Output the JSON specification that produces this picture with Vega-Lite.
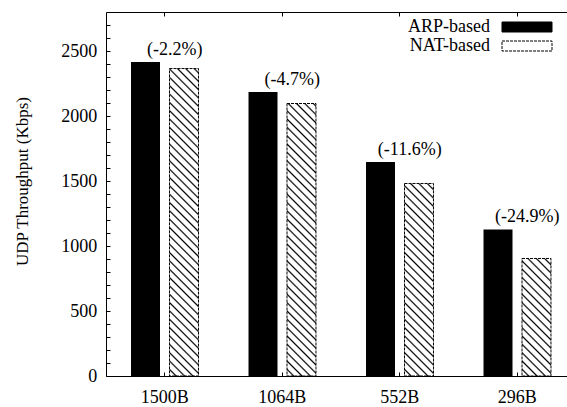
{
 "$schema": "https://vega.github.io/schema/vega-lite/v6.json",
 "width": 461, "height": 364,
 "autosize": {"type": "none"},
 "padding": {"left": 106, "top": 12, "right": 0, "bottom": 31},
 "config": {
  "view": {"stroke": "#000", "strokeWidth": 1},
  "font": "Liberation Serif",
  "axis": {"grid": false, "domain": false, "tickColor": "#000", "tickWidth": 1, "tickSize": 4, "labelColor": "#000", "labelFont": "Liberation Serif", "labelFontSize": 18, "labelOverlap": false, "titleFont": "Liberation Serif", "titleFontSize": 17, "titleFontWeight": "normal", "titleColor": "#000", "zindex": 1},
  "legend": {"labelFont": "Liberation Serif", "labelFontSize": 18, "labelColor": "#000"}
 },
 "data": {"values": [
  {"size": "1500B", "series": "ARP-based", "value": 2415, "diff": "(-2.2%)"},
  {"size": "1500B", "series": "NAT-based", "value": 2365},
  {"size": "1064B", "series": "ARP-based", "value": 2185, "diff": "(-4.7%)"},
  {"size": "1064B", "series": "NAT-based", "value": 2096},
  {"size": "552B", "series": "ARP-based", "value": 1647, "diff": "(-11.6%)"},
  {"size": "552B", "series": "NAT-based", "value": 1481},
  {"size": "296B", "series": "ARP-based", "value": 1127, "diff": "(-24.9%)"},
  {"size": "296B", "series": "NAT-based", "value": 904}
 ]},
 "layer": [
  {
   "mark": {"type": "bar"},
   "encoding": {
    "x": {"field": "size", "type": "nominal", "sort": ["1500B", "1064B", "552B", "296B"], "scale": {"range": [0, 470], "paddingInner": 0, "paddingOuter": 0}, "axis": {"orient": "bottom", "title": null, "labelAngle": 0, "ticks": false, "labelPadding": 12}},
    "xOffset": {"field": "series", "type": "nominal", "sort": ["ARP-based", "NAT-based"], "scale": {"paddingInner": 0.247, "paddingOuter": 0.65}},
    "y": {"field": "value", "type": "quantitative", "scale": {"domain": [0, 2800], "nice": false, "zero": true}, "axis": {"orient": "left", "title": "UDP Throughput (Kbps)", "values": [0, 500, 1000, 1500, 2000, 2500], "format": "d", "ticks": false, "labelPadding": 9.3, "titleX": -83.5, "titleY": 169, "titleBaseline": "middle", "titleAlign": "center", "titleAngle": -90}},
    "color": {"field": "series", "type": "nominal", "sort": ["ARP-based", "NAT-based"], "scale": {"domain": ["ARP-based", "NAT-based"], "range": ["#000", "#fff"]},
     "legend": {"title": null, "orient": "none", "legendX": 412, "legendY": 6, "padding": 0, "rowPadding": 1, "symbolType": "M-5,-1H5V1H-5Z", "symbolSize": 100, "symbolStrokeWidth": 1, "labelAlign": "right", "labelOffset": -46, "labelBaseline": "middle",
      "encode": {"symbols": {"update": {
        "fill": [{"test": "datum.value === 'NAT-based'", "value": {"gradient": "linear", "x1": 0, "y1": 1, "x2": 8.023, "y2": -0.6046, "stops": [
{"offset":0,"color":"#fff"},{"offset":0.012,"color":"#fff"},{"offset":0.016,"color":"#000"},
{"offset":0.02,"color":"#fff"},{"offset":0.032,"color":"#fff"},{"offset":0.036,"color":"#000"},
{"offset":0.04,"color":"#fff"},{"offset":0.052,"color":"#fff"},{"offset":0.056,"color":"#000"},
{"offset":0.06,"color":"#fff"},{"offset":0.072,"color":"#fff"},{"offset":0.076,"color":"#000"},
{"offset":0.08,"color":"#fff"},{"offset":0.092,"color":"#fff"},{"offset":0.096,"color":"#000"},
{"offset":0.1,"color":"#fff"},{"offset":0.112,"color":"#fff"},{"offset":0.116,"color":"#000"},
{"offset":0.12,"color":"#fff"},{"offset":0.132,"color":"#fff"},{"offset":0.136,"color":"#000"},
{"offset":0.14,"color":"#fff"},{"offset":0.152,"color":"#fff"},{"offset":0.156,"color":"#000"},
{"offset":0.16,"color":"#fff"}]}}, {"value": "#000"}],
        "stroke": {"value": "#000"},
        "strokeDash": [{"test": "datum.value === 'NAT-based'", "value": [3, 1]}, {"value": []}]
      }}}}}
   }
  },
  {
   "transform": [{"filter": "datum.series === 'NAT-based'"}],
   "mark": {"type": "bar", "stroke": "#000", "strokeWidth": 1, "strokeDash": [3, 1]},
   "encoding": {
    "x": {"field": "size", "type": "nominal", "sort": ["1500B", "1064B", "552B", "296B"], "axis": {"orient": "bottom", "title": null, "labels": false, "ticks": true, "tickSize": 4, "offset": -4}},
    "xOffset": {"field": "series", "type": "nominal", "sort": ["ARP-based", "NAT-based"]},
    "y": {"field": "value", "type": "quantitative", "axis": {"orient": "left", "title": null, "labels": false, "ticks": true, "tickSize": 4, "offset": -4, "values": [0,100,200,300,400,500,600,700,800,900,1000,1100,1200,1300,1400,1500,1600,1700,1800,1900,2000,2100,2200,2300,2400,2500,2600,2700]}},
    "fill": {"condition": [
     {"test": "datum.size === '1500B'", "value": {"gradient": "linear", "x1": 0, "y1": 1, "x2": 0.1269, "y2": -0.345, "stops": [
{"offset":0,"color":"#fff"},{"offset":0.012,"color":"#fff"},{"offset":0.016,"color":"#000"},
{"offset":0.02,"color":"#fff"},{"offset":0.032,"color":"#fff"},{"offset":0.036,"color":"#000"},
{"offset":0.04,"color":"#fff"},{"offset":0.052,"color":"#fff"},{"offset":0.056,"color":"#000"},
{"offset":0.06,"color":"#fff"},{"offset":0.072,"color":"#fff"},{"offset":0.076,"color":"#000"},
{"offset":0.08,"color":"#fff"},{"offset":0.092,"color":"#fff"},{"offset":0.096,"color":"#000"},
{"offset":0.1,"color":"#fff"},{"offset":0.112,"color":"#fff"},{"offset":0.116,"color":"#000"},
{"offset":0.12,"color":"#fff"},{"offset":0.132,"color":"#fff"},{"offset":0.136,"color":"#000"},
{"offset":0.14,"color":"#fff"},{"offset":0.152,"color":"#fff"},{"offset":0.156,"color":"#000"},
{"offset":0.16,"color":"#fff"},{"offset":0.172,"color":"#fff"},{"offset":0.176,"color":"#000"},
{"offset":0.18,"color":"#fff"},{"offset":0.192,"color":"#fff"},{"offset":0.196,"color":"#000"},
{"offset":0.2,"color":"#fff"},{"offset":0.212,"color":"#fff"},{"offset":0.216,"color":"#000"},
{"offset":0.22,"color":"#fff"},{"offset":0.232,"color":"#fff"},{"offset":0.236,"color":"#000"},
{"offset":0.24,"color":"#fff"},{"offset":0.252,"color":"#fff"},{"offset":0.256,"color":"#000"},
{"offset":0.26,"color":"#fff"},{"offset":0.272,"color":"#fff"},{"offset":0.276,"color":"#000"},
{"offset":0.28,"color":"#fff"},{"offset":0.292,"color":"#fff"},{"offset":0.296,"color":"#000"},
{"offset":0.3,"color":"#fff"},{"offset":0.312,"color":"#fff"},{"offset":0.316,"color":"#000"},
{"offset":0.32,"color":"#fff"},{"offset":0.332,"color":"#fff"},{"offset":0.336,"color":"#000"},
{"offset":0.34,"color":"#fff"},{"offset":0.352,"color":"#fff"},{"offset":0.356,"color":"#000"},
{"offset":0.36,"color":"#fff"},{"offset":0.372,"color":"#fff"},{"offset":0.376,"color":"#000"},
{"offset":0.38,"color":"#fff"},{"offset":0.392,"color":"#fff"},{"offset":0.396,"color":"#000"},
{"offset":0.4,"color":"#fff"},{"offset":0.412,"color":"#fff"},{"offset":0.416,"color":"#000"},
{"offset":0.42,"color":"#fff"},{"offset":0.432,"color":"#fff"},{"offset":0.436,"color":"#000"},
{"offset":0.44,"color":"#fff"},{"offset":0.452,"color":"#fff"},{"offset":0.456,"color":"#000"},
{"offset":0.46,"color":"#fff"},{"offset":0.472,"color":"#fff"},{"offset":0.476,"color":"#000"},
{"offset":0.48,"color":"#fff"},{"offset":0.492,"color":"#fff"},{"offset":0.496,"color":"#000"},
{"offset":0.5,"color":"#fff"},{"offset":0.512,"color":"#fff"},{"offset":0.516,"color":"#000"},
{"offset":0.52,"color":"#fff"},{"offset":0.532,"color":"#fff"},{"offset":0.536,"color":"#000"},
{"offset":0.54,"color":"#fff"},{"offset":0.552,"color":"#fff"},{"offset":0.556,"color":"#000"},
{"offset":0.56,"color":"#fff"},{"offset":0.572,"color":"#fff"},{"offset":0.576,"color":"#000"},
{"offset":0.58,"color":"#fff"},{"offset":0.592,"color":"#fff"},{"offset":0.596,"color":"#000"},
{"offset":0.6,"color":"#fff"},{"offset":0.612,"color":"#fff"},{"offset":0.616,"color":"#000"},
{"offset":0.62,"color":"#fff"},{"offset":0.632,"color":"#fff"},{"offset":0.636,"color":"#000"},
{"offset":0.64,"color":"#fff"},{"offset":0.652,"color":"#fff"},{"offset":0.656,"color":"#000"},
{"offset":0.66,"color":"#fff"},{"offset":0.672,"color":"#fff"},{"offset":0.676,"color":"#000"},
{"offset":0.68,"color":"#fff"},{"offset":0.692,"color":"#fff"},{"offset":0.696,"color":"#000"},
{"offset":0.7,"color":"#fff"},{"offset":0.712,"color":"#fff"},{"offset":0.716,"color":"#000"},
{"offset":0.72,"color":"#fff"},{"offset":0.732,"color":"#fff"},{"offset":0.736,"color":"#000"},
{"offset":0.74,"color":"#fff"},{"offset":0.752,"color":"#fff"},{"offset":0.756,"color":"#000"},
{"offset":0.76,"color":"#fff"},{"offset":0.772,"color":"#fff"},{"offset":0.776,"color":"#000"},
{"offset":0.78,"color":"#fff"},{"offset":0.792,"color":"#fff"},{"offset":0.796,"color":"#000"},
{"offset":0.8,"color":"#fff"},{"offset":0.812,"color":"#fff"},{"offset":0.816,"color":"#000"},
{"offset":0.82,"color":"#fff"}]}},
     {"test": "datum.size === '1064B'", "value": {"gradient": "linear", "x1": 0, "y1": 1, "x2": 0.1611, "y2": -0.514, "stops": [
{"offset":0,"color":"#fff"},{"offset":0.012,"color":"#fff"},{"offset":0.016,"color":"#000"},
{"offset":0.02,"color":"#fff"},{"offset":0.032,"color":"#fff"},{"offset":0.036,"color":"#000"},
{"offset":0.04,"color":"#fff"},{"offset":0.052,"color":"#fff"},{"offset":0.056,"color":"#000"},
{"offset":0.06,"color":"#fff"},{"offset":0.072,"color":"#fff"},{"offset":0.076,"color":"#000"},
{"offset":0.08,"color":"#fff"},{"offset":0.092,"color":"#fff"},{"offset":0.096,"color":"#000"},
{"offset":0.1,"color":"#fff"},{"offset":0.112,"color":"#fff"},{"offset":0.116,"color":"#000"},
{"offset":0.12,"color":"#fff"},{"offset":0.132,"color":"#fff"},{"offset":0.136,"color":"#000"},
{"offset":0.14,"color":"#fff"},{"offset":0.152,"color":"#fff"},{"offset":0.156,"color":"#000"},
{"offset":0.16,"color":"#fff"},{"offset":0.172,"color":"#fff"},{"offset":0.176,"color":"#000"},
{"offset":0.18,"color":"#fff"},{"offset":0.192,"color":"#fff"},{"offset":0.196,"color":"#000"},
{"offset":0.2,"color":"#fff"},{"offset":0.212,"color":"#fff"},{"offset":0.216,"color":"#000"},
{"offset":0.22,"color":"#fff"},{"offset":0.232,"color":"#fff"},{"offset":0.236,"color":"#000"},
{"offset":0.24,"color":"#fff"},{"offset":0.252,"color":"#fff"},{"offset":0.256,"color":"#000"},
{"offset":0.26,"color":"#fff"},{"offset":0.272,"color":"#fff"},{"offset":0.276,"color":"#000"},
{"offset":0.28,"color":"#fff"},{"offset":0.292,"color":"#fff"},{"offset":0.296,"color":"#000"},
{"offset":0.3,"color":"#fff"},{"offset":0.312,"color":"#fff"},{"offset":0.316,"color":"#000"},
{"offset":0.32,"color":"#fff"},{"offset":0.332,"color":"#fff"},{"offset":0.336,"color":"#000"},
{"offset":0.34,"color":"#fff"},{"offset":0.352,"color":"#fff"},{"offset":0.356,"color":"#000"},
{"offset":0.36,"color":"#fff"},{"offset":0.372,"color":"#fff"},{"offset":0.376,"color":"#000"},
{"offset":0.38,"color":"#fff"},{"offset":0.392,"color":"#fff"},{"offset":0.396,"color":"#000"},
{"offset":0.4,"color":"#fff"},{"offset":0.412,"color":"#fff"},{"offset":0.416,"color":"#000"},
{"offset":0.42,"color":"#fff"},{"offset":0.432,"color":"#fff"},{"offset":0.436,"color":"#000"},
{"offset":0.44,"color":"#fff"},{"offset":0.452,"color":"#fff"},{"offset":0.456,"color":"#000"},
{"offset":0.46,"color":"#fff"},{"offset":0.472,"color":"#fff"},{"offset":0.476,"color":"#000"},
{"offset":0.48,"color":"#fff"},{"offset":0.492,"color":"#fff"},{"offset":0.496,"color":"#000"},
{"offset":0.5,"color":"#fff"},{"offset":0.512,"color":"#fff"},{"offset":0.516,"color":"#000"},
{"offset":0.52,"color":"#fff"},{"offset":0.532,"color":"#fff"},{"offset":0.536,"color":"#000"},
{"offset":0.54,"color":"#fff"},{"offset":0.552,"color":"#fff"},{"offset":0.556,"color":"#000"},
{"offset":0.56,"color":"#fff"},{"offset":0.572,"color":"#fff"},{"offset":0.576,"color":"#000"},
{"offset":0.58,"color":"#fff"},{"offset":0.592,"color":"#fff"},{"offset":0.596,"color":"#000"},
{"offset":0.6,"color":"#fff"},{"offset":0.612,"color":"#fff"},{"offset":0.616,"color":"#000"},
{"offset":0.62,"color":"#fff"},{"offset":0.632,"color":"#fff"},{"offset":0.636,"color":"#000"},
{"offset":0.64,"color":"#fff"},{"offset":0.652,"color":"#fff"},{"offset":0.656,"color":"#000"},
{"offset":0.66,"color":"#fff"},{"offset":0.672,"color":"#fff"},{"offset":0.676,"color":"#000"},
{"offset":0.68,"color":"#fff"},{"offset":0.692,"color":"#fff"},{"offset":0.696,"color":"#000"},
{"offset":0.7,"color":"#fff"},{"offset":0.712,"color":"#fff"},{"offset":0.716,"color":"#000"},
{"offset":0.72,"color":"#fff"},{"offset":0.732,"color":"#fff"},{"offset":0.736,"color":"#000"},
{"offset":0.74,"color":"#fff"}]}},
     {"test": "datum.size === '552B'", "value": {"gradient": "linear", "x1": 0, "y1": 1, "x2": 0.3192, "y2": -1.1188, "stops": [
{"offset":0,"color":"#fff"},{"offset":0.012,"color":"#fff"},{"offset":0.016,"color":"#000"},
{"offset":0.02,"color":"#fff"},{"offset":0.032,"color":"#fff"},{"offset":0.036,"color":"#000"},
{"offset":0.04,"color":"#fff"},{"offset":0.052,"color":"#fff"},{"offset":0.056,"color":"#000"},
{"offset":0.06,"color":"#fff"},{"offset":0.072,"color":"#fff"},{"offset":0.076,"color":"#000"},
{"offset":0.08,"color":"#fff"},{"offset":0.092,"color":"#fff"},{"offset":0.096,"color":"#000"},
{"offset":0.1,"color":"#fff"},{"offset":0.112,"color":"#fff"},{"offset":0.116,"color":"#000"},
{"offset":0.12,"color":"#fff"},{"offset":0.132,"color":"#fff"},{"offset":0.136,"color":"#000"},
{"offset":0.14,"color":"#fff"},{"offset":0.152,"color":"#fff"},{"offset":0.156,"color":"#000"},
{"offset":0.16,"color":"#fff"},{"offset":0.172,"color":"#fff"},{"offset":0.176,"color":"#000"},
{"offset":0.18,"color":"#fff"},{"offset":0.192,"color":"#fff"},{"offset":0.196,"color":"#000"},
{"offset":0.2,"color":"#fff"},{"offset":0.212,"color":"#fff"},{"offset":0.216,"color":"#000"},
{"offset":0.22,"color":"#fff"},{"offset":0.232,"color":"#fff"},{"offset":0.236,"color":"#000"},
{"offset":0.24,"color":"#fff"},{"offset":0.252,"color":"#fff"},{"offset":0.256,"color":"#000"},
{"offset":0.26,"color":"#fff"},{"offset":0.272,"color":"#fff"},{"offset":0.276,"color":"#000"},
{"offset":0.28,"color":"#fff"},{"offset":0.292,"color":"#fff"},{"offset":0.296,"color":"#000"},
{"offset":0.3,"color":"#fff"},{"offset":0.312,"color":"#fff"},{"offset":0.316,"color":"#000"},
{"offset":0.32,"color":"#fff"},{"offset":0.332,"color":"#fff"},{"offset":0.336,"color":"#000"},
{"offset":0.34,"color":"#fff"},{"offset":0.352,"color":"#fff"},{"offset":0.356,"color":"#000"},
{"offset":0.36,"color":"#fff"},{"offset":0.372,"color":"#fff"},{"offset":0.376,"color":"#000"},
{"offset":0.38,"color":"#fff"},{"offset":0.392,"color":"#fff"},{"offset":0.396,"color":"#000"},
{"offset":0.4,"color":"#fff"},{"offset":0.412,"color":"#fff"},{"offset":0.416,"color":"#000"},
{"offset":0.42,"color":"#fff"},{"offset":0.432,"color":"#fff"},{"offset":0.436,"color":"#000"},
{"offset":0.44,"color":"#fff"},{"offset":0.452,"color":"#fff"},{"offset":0.456,"color":"#000"},
{"offset":0.46,"color":"#fff"},{"offset":0.472,"color":"#fff"},{"offset":0.476,"color":"#000"},
{"offset":0.48,"color":"#fff"},{"offset":0.492,"color":"#fff"},{"offset":0.496,"color":"#000"},
{"offset":0.5,"color":"#fff"},{"offset":0.512,"color":"#fff"},{"offset":0.516,"color":"#000"},
{"offset":0.52,"color":"#fff"},{"offset":0.532,"color":"#fff"},{"offset":0.536,"color":"#000"},
{"offset":0.54,"color":"#fff"}]}}
    ],
    "value": {"gradient": "linear", "x1": 0, "y1": 1, "x2": 0.8258, "y2": -2.3463, "stops": [
{"offset":0,"color":"#fff"},{"offset":0.012,"color":"#fff"},{"offset":0.016,"color":"#000"},
{"offset":0.02,"color":"#fff"},{"offset":0.032,"color":"#fff"},{"offset":0.036,"color":"#000"},
{"offset":0.04,"color":"#fff"},{"offset":0.052,"color":"#fff"},{"offset":0.056,"color":"#000"},
{"offset":0.06,"color":"#fff"},{"offset":0.072,"color":"#fff"},{"offset":0.076,"color":"#000"},
{"offset":0.08,"color":"#fff"},{"offset":0.092,"color":"#fff"},{"offset":0.096,"color":"#000"},
{"offset":0.1,"color":"#fff"},{"offset":0.112,"color":"#fff"},{"offset":0.116,"color":"#000"},
{"offset":0.12,"color":"#fff"},{"offset":0.132,"color":"#fff"},{"offset":0.136,"color":"#000"},
{"offset":0.14,"color":"#fff"},{"offset":0.152,"color":"#fff"},{"offset":0.156,"color":"#000"},
{"offset":0.16,"color":"#fff"},{"offset":0.172,"color":"#fff"},{"offset":0.176,"color":"#000"},
{"offset":0.18,"color":"#fff"},{"offset":0.192,"color":"#fff"},{"offset":0.196,"color":"#000"},
{"offset":0.2,"color":"#fff"},{"offset":0.212,"color":"#fff"},{"offset":0.216,"color":"#000"},
{"offset":0.22,"color":"#fff"},{"offset":0.232,"color":"#fff"},{"offset":0.236,"color":"#000"},
{"offset":0.24,"color":"#fff"},{"offset":0.252,"color":"#fff"},{"offset":0.256,"color":"#000"},
{"offset":0.26,"color":"#fff"},{"offset":0.272,"color":"#fff"},{"offset":0.276,"color":"#000"},
{"offset":0.28,"color":"#fff"},{"offset":0.292,"color":"#fff"},{"offset":0.296,"color":"#000"},
{"offset":0.3,"color":"#fff"},{"offset":0.312,"color":"#fff"},{"offset":0.316,"color":"#000"},
{"offset":0.32,"color":"#fff"},{"offset":0.332,"color":"#fff"},{"offset":0.336,"color":"#000"},
{"offset":0.34,"color":"#fff"},{"offset":0.352,"color":"#fff"},{"offset":0.356,"color":"#000"},
{"offset":0.36,"color":"#fff"}]}
    }
   }
  },
  {
   "transform": [{"filter": "datum.series === 'ARP-based'"}],
   "mark": {"type": "text", "dx": 10, "dy": -12, "baseline": "middle", "align": "center", "fontSize": 18, "font": "Liberation Serif", "color": "#000"},
   "encoding": {
    "x": {"field": "size", "type": "nominal", "sort": ["1500B", "1064B", "552B", "296B"], "axis": {"orient": "top", "labels": false, "title": null, "ticks": true, "tickSize": 4, "offset": -4}},
    "y": {"field": "value", "type": "quantitative", "axis": null},
    "text": {"field": "diff"}
   }
  }
 ],
 "resolve": {"axis": {"x": "independent", "y": "independent"}}
}
